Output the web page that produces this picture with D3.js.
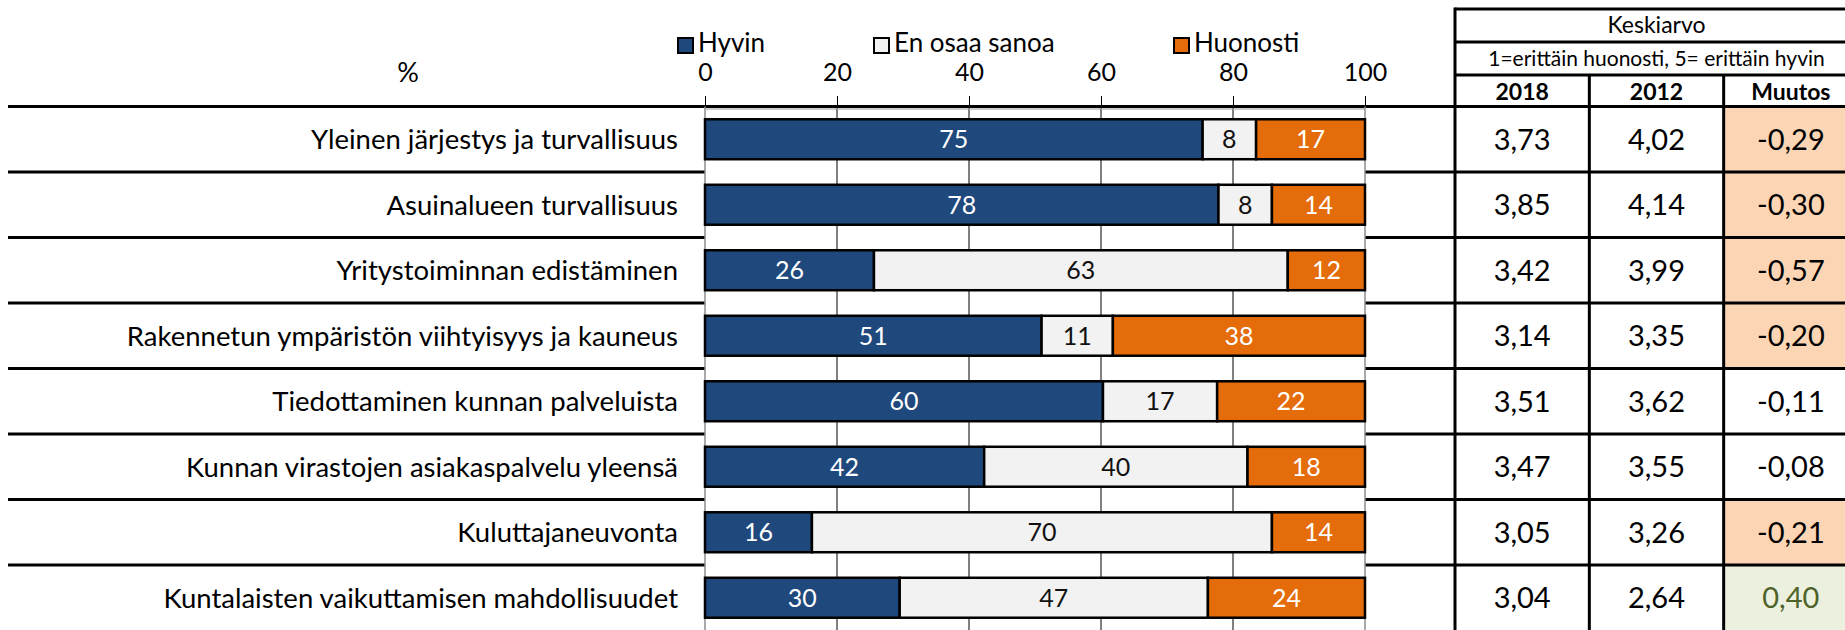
<!DOCTYPE html>
<html>
<head>
<meta charset="utf-8">
<script src="https://cdn.jsdelivr.net/npm/d3@7"></script>
<style>
  body { margin: 0; background: #fff; }
  svg { display: block; font-family: Lato, "Open Sans", sans-serif; }
</style>
</head>
<body>
<svg id="stage"></svg>
<script>
/* ---------- data ---------- */

const categories = [
  "Yleinen järjestys ja turvallisuus",
  "Asuinalueen turvallisuus",
  "Yritystoiminnan edistäminen",
  "Rakennetun ympäristön viihtyisyys ja kauneus",
  "Tiedottaminen kunnan palveluista",
  "Kunnan virastojen asiakaspalvelu yleensä",
  "Kuluttajaneuvonta",
  "Kuntalaisten vaikuttamisen mahdollisuudet"
];
const series_names = ["Hyvin", "En osaa sanoa", "Huonosti"];
const hyvin = [75.4, 77.8, 25.6, 51.0, 60.3, 42.3, 16.2, 29.5];
const en_osaa = [8.1, 8.1, 62.7, 10.8, 17.3, 39.9, 69.7, 46.7];
const huonosti = [16.5, 14.1, 11.7, 38.2, 22.4, 17.8, 14.1, 23.8];
const x_ticks = [0, 20, 40, 60, 80, 100];

const table_columns = ["2018", "2012", "Muutos"];
const mean_2018 = [3.73, 3.85, 3.42, 3.14, 3.51, 3.47, 3.05, 3.04];
const mean_2012 = [4.02, 4.14, 3.99, 3.35, 3.62, 3.55, 3.26, 2.64];
const change = [-0.29, -0.30, -0.57, -0.20, -0.11, -0.08, -0.21, 0.40];

/* ---------- setup ---------- */

const width = 1845, height = 630;
const svg = d3.select("#stage").attr("width", width).attr("height", height);

const colors = d3.scaleOrdinal().domain(series_names).range(["#1f497d", "#f2f2f2", "#e46c0a"]);
const text_colors = d3.scaleOrdinal().domain(series_names).range(["#fff", "#111", "#fff"]);

const rows_top = 106.5, row_step = 65.5;
const y = d3.scaleBand()
  .domain(categories)
  .range([rows_top, rows_top + row_step * categories.length])
  .paddingInner(0.39)
  .paddingOuter(0.195);
const x = d3.scaleLinear().domain([0, 100]).range([705, 1365]);
const col = d3.scaleBand().domain(table_columns).range([1455, 1858]);

const fi = d3.formatLocale({ decimal: ",", thousands: " ", grouping: [3], currency: ["", ""], minus: "-" });
const f2 = fi.format(".2f");

const rows = categories.map((c, i) => ({
  cat: c,
  parts: [hyvin[i], en_osaa[i], huonosti[i]],
  m18: mean_2018[i], m12: mean_2012[i], ch: change[i]
}));
const stack = d3.stack().keys([0, 1, 2]).value((d, k) => d.parts[k]);
const stacked = stack(rows);

const row_top = i => rows_top + i * row_step;

/* ---------- table fills ---------- */

svg.append("g").selectAll("rect")
  .data(rows)
  .join("rect")
  .attr("x", col("Muutos"))
  .attr("y", (d, i) => row_top(i))
  .attr("width", col.bandwidth())
  .attr("height", row_step)
  .attr("fill", d => d.ch <= -0.2 ? "#fcd5b4" : d.ch >= 0.2 ? "#ebf1de" : "#fff");

/* ---------- lines ---------- */

const lines = svg.append("g").attr("stroke", "#000").attr("stroke-width", 3);
lines.selectAll("line.sep")
  .data(d3.range(categories.length))
  .join("line")
  .attr("class", "sep")
  .attr("x1", 8).attr("x2", 1858)
  .attr("y1", i => row_top(i)).attr("y2", i => row_top(i));

const table_h = [9, 42, 75];
lines.selectAll("line.th")
  .data(table_h)
  .join("line")
  .attr("class", "th")
  .attr("x1", 1455).attr("x2", 1858)
  .attr("y1", d => d).attr("y2", d => d);

lines.selectAll("line.tv")
  .data([1455, col("2012"), col("Muutos"), 1858])
  .join("line")
  .attr("class", "tv")
  .attr("x1", d => d).attr("x2", d => d)
  .attr("y1", (d, i) => (i === 0 || i === 3) ? 7.5 : 75)
  .attr("y2", height);

/* ---------- plot area ---------- */

svg.append("rect")
  .attr("x", x(0)).attr("y", rows_top + 1.5)
  .attr("width", x(100) - x(0)).attr("height", height - rows_top)
  .attr("fill", "#fff");

svg.append("g").selectAll("line")
  .data(x_ticks.filter(t => t > 0 && t < 100))
  .join("line")
  .attr("x1", d => x(d)).attr("x2", d => x(d))
  .attr("y1", rows_top).attr("y2", height)
  .attr("stroke", "#000").attr("stroke-width", 1);

svg.append("g").selectAll("line")
  .data([0, 100])
  .join("line")
  .attr("x1", d => x(d)).attr("x2", d => x(d))
  .attr("y1", rows_top).attr("y2", height)
  .attr("stroke", "#8c8c8c").attr("stroke-width", 1.5);

svg.append("line")
  .attr("x1", x(0)).attr("x2", x(100))
  .attr("y1", rows_top + 2.5).attr("y2", rows_top + 2.5)
  .attr("stroke", "#9a9a9a").attr("stroke-width", 1);

const axis = svg.append("g")
  .attr("transform", `translate(0,${rows_top - 0.5})`)
  .call(d3.axisTop(x).tickValues(x_ticks).tickSize(10).tickPadding(15));
axis.select(".domain").remove();
axis.selectAll("line").attr("stroke", "#000");
axis.selectAll("text")
  .attr("font-family", "Lato")
  .attr("font-size", 25)
  .attr("fill", "#000");

/* ---------- bars ---------- */

const layers = svg.append("g").selectAll("g")
  .data(stacked)
  .join("g")
  .attr("fill", d => colors(series_names[d.key]));

layers.selectAll("rect")
  .data(d => d)
  .join("rect")
  .attr("x", d => x(d[0]))
  .attr("y", d => y(d.data.cat))
  .attr("width", d => x(d[1]) - x(d[0]))
  .attr("height", y.bandwidth())
  .attr("stroke", "#000")
  .attr("stroke-width", 2.5);

layers.selectAll("text")
  .data(d => d.map(v => ({ v, key: d.key })))
  .join("text")
  .attr("x", d => (x(d.v[0]) + x(d.v[1])) / 2)
  .attr("y", d => y(d.v.data.cat) + y.bandwidth() / 2)
  .attr("dy", "0.36em")
  .attr("text-anchor", "middle")
  .attr("font-size", 25)
  .attr("fill", d => text_colors(series_names[d.key]))
  .text(d => Math.round(d.v[1] - d.v[0]));

/* ---------- category labels ---------- */

svg.append("g").selectAll("text")
  .data(categories)
  .join("text")
  .attr("x", 678)
  .attr("y", d => y(d) + y.bandwidth() / 2)
  .attr("dy", "0.36em")
  .attr("text-anchor", "end")
  .attr("font-size", 27.5)
  .attr("fill", "#000")
  .text(d => d);

svg.append("text")
  .attr("x", 408).attr("y", 82)
  .attr("text-anchor", "middle")
  .attr("font-size", 27)
  .text("%");

/* ---------- legend ---------- */

const legend_x = [678, 874, 1174];
const legend = svg.append("g").selectAll("g")
  .data(series_names)
  .join("g")
  .attr("transform", (d, i) => `translate(${legend_x[i]},38)`);
legend.append("rect")
  .attr("width", 15).attr("height", 15)
  .attr("fill", d => colors(d))
  .attr("stroke", "#000").attr("stroke-width", 2);
legend.append("text")
  .attr("x", 20).attr("y", 14)
  .attr("font-size", 26)
  .text(d => d);

/* ---------- table text ---------- */

const table_mid = (1455 + 1858) / 2;
svg.append("text")
  .attr("x", table_mid).attr("y", 33)
  .attr("text-anchor", "middle")
  .attr("font-size", 23)
  .text("Keskiarvo");
svg.append("text")
  .attr("x", table_mid).attr("y", 66)
  .attr("text-anchor", "middle")
  .attr("font-size", 21)
  .text("1=erittäin huonosti, 5= erittäin hyvin");

svg.append("g").selectAll("text")
  .data(table_columns)
  .join("text")
  .attr("x", d => col(d) + col.bandwidth() / 2)
  .attr("y", 100)
  .attr("text-anchor", "middle")
  .attr("font-size", 23)
  .attr("font-weight", "bold")
  .text(d => d);

const cells = rows.flatMap((r, i) => [
  { col: "2018", v: r.m18, i },
  { col: "2012", v: r.m12, i },
  { col: "Muutos", v: r.ch, i }
]);
svg.append("g").selectAll("text")
  .data(cells)
  .join("text")
  .attr("x", d => col(d.col) + col.bandwidth() / 2)
  .attr("y", d => row_top(d.i) + row_step / 2)
  .attr("dy", "0.36em")
  .attr("text-anchor", "middle")
  .attr("font-size", 29)
  .attr("fill", d => d.col === "Muutos" && d.v >= 0.2 ? "#4f6228" : "#000")
  .text(d => f2(d.v));
</script>
</body>
</html>
